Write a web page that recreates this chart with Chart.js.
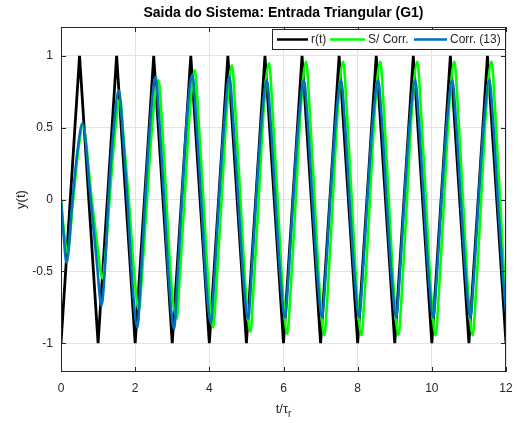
<!DOCTYPE html>
<html lang="pt">
<head>
  <meta charset="UTF-8">
  <title>Saida do Sistema: Entrada Triangular (G1)</title>
  <style>
    body {
      margin: 0;
      background-color: #fff;
    }
    canvas {
      display: block;
    }
  </style>
</head>
<body>

  <canvas id="saidaChart" width="517" height="423"></canvas>

  <script src="https://cdn.jsdelivr.net/npm/chart.js"></script>
  <script>
    // r(t): triangular input
    const refT = [0, 0.5, 1, 1.5, 2, 2.5, 3, 3.5, 4, 4.5, 5, 5.5, 6, 6.5, 7, 7.5, 8, 8.5, 9, 9.5, 10, 10.5, 11, 11.5, 12];
    const refY = [-1, 1, -1, 1, -1, 1, -1, 1, -1, 1, -1, 1, -1, 1, -1, 1, -1, 1, -1, 1, -1, 1, -1, 1, -1];

    // S/ Corr. (green)
    const semT = [
      0, 0.08, 0.17, 0.33, 0.46, 0.59, 0.83, 0.97,
      1.12, 1.21, 1.31, 1.45, 1.59, 1.69, 1.83, 1.97,
      2.10, 2.19, 2.32, 2.47, 2.63, 2.72, 2.84, 2.98,
      3.12, 3.20, 3.33, 3.47, 3.61, 3.70, 3.84, 3.98,
      4.10, 4.19, 4.33, 4.47, 4.61, 4.70, 4.84, 4.98,
      5.11, 5.19, 5.33, 5.47, 5.61, 5.70, 5.84, 5.98,
      6.10, 6.19, 6.33, 6.47, 6.61, 6.70, 6.84, 6.98,
      7.10, 7.19, 7.33, 7.47, 7.61, 7.70, 7.84, 7.98,
      8.10, 8.19, 8.33, 8.47, 8.61, 8.70, 8.84, 8.98,
      9.10, 9.19, 9.33, 9.47, 9.61, 9.70, 9.84, 9.98,
      10.10, 10.19, 10.33, 10.47, 10.61, 10.70, 10.84, 10.98,
      11.10, 11.19, 11.33, 11.47, 11.61, 11.70, 11.84, 11.98,
      12
    ];
    const semY = [
      0, -0.22, -0.37, 0, 0.33, 0.51, 0, -0.30,
      -0.55, -0.35, 0, 0.45, 0.70, 0.42, 0, -0.50,
      -0.77, -0.50, 0, 0.55, 0.83, 0.55, 0, -0.60,
      -0.83, -0.55, 0, 0.60, 0.90, 0.60, 0, -0.62,
      -0.89, -0.60, 0, 0.62, 0.935, 0.62, 0, -0.63,
      -0.92, -0.62, 0, 0.64, 0.95, 0.64, 0, -0.64,
      -0.935, -0.64, 0, 0.65, 0.96, 0.65, 0, -0.65,
      -0.945, -0.65, 0, 0.65, 0.96, 0.65, 0, -0.65,
      -0.945, -0.65, 0, 0.65, 0.96, 0.65, 0, -0.65,
      -0.945, -0.65, 0, 0.65, 0.96, 0.65, 0, -0.65,
      -0.945, -0.65, 0, 0.65, 0.96, 0.65, 0, -0.65,
      -0.945, -0.65, 0, 0.65, 0.96, 0.65, 0, -0.65,
      -0.70
    ];

    // Corr. (13) (blue)
    const corrT = [
      0, 0.07, 0.15, 0.31, 0.45, 0.58, 0.80, 0.97,
      1.09, 1.18, 1.28, 1.42, 1.56, 1.67, 1.79, 1.93,
      2.06, 2.14, 2.27, 2.41, 2.55, 2.65, 2.78, 2.92,
      3.05, 3.13, 3.26, 3.40, 3.54, 3.64, 3.78, 3.92,
      4.04, 4.13, 4.26, 4.41, 4.54, 4.64, 4.78, 4.92,
      5.05, 5.13, 5.26, 5.41, 5.55, 5.65, 5.78, 5.92,
      6.04, 6.13, 6.26, 6.41, 6.55, 6.65, 6.78, 6.92,
      7.04, 7.13, 7.26, 7.41, 7.55, 7.65, 7.78, 7.92,
      8.04, 8.13, 8.26, 8.41, 8.55, 8.65, 8.78, 8.92,
      9.04, 9.13, 9.26, 9.41, 9.55, 9.65, 9.78, 9.92,
      10.04, 10.13, 10.26, 10.41, 10.55, 10.65, 10.78, 10.92,
      11.04, 11.13, 11.26, 11.41, 11.55, 11.65, 11.78, 11.92,
      12
    ];
    const corrY = [
      0, -0.25, -0.44, 0, 0.35, 0.53, 0, -0.45,
      -0.74, -0.50, 0, 0.50, 0.76, 0.45, 0, -0.60,
      -0.89, -0.60, 0, 0.55, 0.855, 0.55, 0, -0.60,
      -0.90, -0.60, 0, 0.58, 0.87, 0.58, 0, -0.60,
      -0.86, -0.57, 0, 0.56, 0.855, 0.56, 0, -0.56,
      -0.83, -0.55, 0, 0.55, 0.83, 0.55, 0, -0.55,
      -0.82, -0.55, 0, 0.55, 0.83, 0.55, 0, -0.55,
      -0.82, -0.55, 0, 0.55, 0.83, 0.55, 0, -0.55,
      -0.82, -0.55, 0, 0.55, 0.83, 0.55, 0, -0.55,
      -0.82, -0.55, 0, 0.55, 0.83, 0.55, 0, -0.55,
      -0.82, -0.55, 0, 0.55, 0.83, 0.55, 0, -0.55,
      -0.82, -0.55, 0, 0.55, 0.83, 0.55, 0, -0.55,
      -0.78
    ];

    const yTicks = [-1, -0.5, 0, 0.5, 1];
    const seriesNames = ['r(t)', 'S/ Corr.', 'Corr. (13)'];
    const seriesColors = ['#000000', '#00ff00', '#0072bd'];

    const FONT = "'Liberation Sans', Arial, Helvetica, sans-serif";
    const AXIS_COLOR = '#262626';

    const toPoints = (ts, ys) => ts.map((t, i) => ({ x: t, y: ys[i] }));

    // frame, inner ticks, title, axis labels and legend (MATLAB look)
    const framePlugin = {
      id: 'frame',
      afterDraw(chart) {
        const ctx = chart.ctx;
        const a = chart.chartArea;
        const xs = chart.scales.x;
        const ys = chart.scales.y;
        ctx.save();

        // box
        ctx.strokeStyle = AXIS_COLOR;
        ctx.lineWidth = 1;
        ctx.strokeRect(Math.round(a.left) + 0.5, Math.round(a.top) + 0.5,
          Math.round(a.right - a.left) - 1, Math.round(a.bottom - a.top) - 1);

        // inner ticks
        ctx.beginPath();
        xs.ticks.forEach(tk => {
          const px = Math.round(xs.getPixelForValue(tk.value)) + 0.5;
          ctx.moveTo(px, a.bottom); ctx.lineTo(px, a.bottom - 5);
          ctx.moveTo(px, a.top); ctx.lineTo(px, a.top + 5);
        });
        ys.ticks.forEach(tk => {
          const py = Math.round(ys.getPixelForValue(tk.value)) + 0.5;
          ctx.moveTo(a.left, py); ctx.lineTo(a.left + 5, py);
          ctx.moveTo(a.right, py); ctx.lineTo(a.right - 5, py);
        });
        ctx.stroke();

        // title
        ctx.fillStyle = '#000';
        ctx.font = 'bold 14px ' + FONT;
        ctx.textAlign = 'center';
        ctx.textBaseline = 'middle';
        ctx.fillText('Saida do Sistema: Entrada Triangular (G1)', (a.left + a.right) / 2, 13);

        // x label t/τ_r
        ctx.fillStyle = AXIS_COLOR;
        ctx.textAlign = 'left';
        ctx.textBaseline = 'alphabetic';
        ctx.font = '13px ' + FONT;
        const main = 't/\u03C4';
        const w1 = ctx.measureText(main).width;
        ctx.font = '10px ' + FONT;
        const w2 = ctx.measureText('r').width;
        const x0 = (a.left + a.right) / 2 - (w1 + w2) / 2;
        ctx.font = '13px ' + FONT;
        ctx.fillText(main, x0, 413);
        ctx.font = '10px ' + FONT;
        ctx.fillText('r', x0 + w1, 417);

        // y label
        ctx.save();
        ctx.translate(21, (a.top + a.bottom) / 2);
        ctx.rotate(-Math.PI / 2);
        ctx.font = '13px ' + FONT;
        ctx.textAlign = 'center';
        ctx.textBaseline = 'middle';
        ctx.fillText('y(t)', 0, 0);
        ctx.restore();

        // legend
        const lx = 272, ly = 29, lw = a.right - 272, lh = 21;
        ctx.fillStyle = '#fff';
        ctx.fillRect(lx, ly, lw, lh);
        ctx.strokeStyle = AXIS_COLOR;
        ctx.strokeRect(lx + 0.5, ly + 0.5, lw - 1, lh - 1);
        const cy = ly + lh / 2;
        const items = [
          { x: 277, len: 31 },
          { x: 330, len: 35 },
          { x: 414, len: 33 }
        ];
        ctx.font = '12px ' + FONT;
        ctx.textBaseline = 'middle';
        ctx.textAlign = 'left';
        items.forEach((it, i) => {
          ctx.strokeStyle = seriesColors[i];
          ctx.lineWidth = 2.5;
          ctx.beginPath();
          ctx.moveTo(it.x, cy); ctx.lineTo(it.x + it.len, cy);
          ctx.stroke();
          ctx.fillStyle = AXIS_COLOR;
          ctx.fillText(seriesNames[i], it.x + it.len + 3, cy + 0.5);
        });

        ctx.restore();
      }
    };

    const ctx = document.getElementById('saidaChart').getContext('2d');

    const chart = new Chart(ctx, {
      type: 'line',
      data: {
        datasets: [
          {
            label: seriesNames[2],
            data: toPoints(corrT, corrY),
            borderColor: seriesColors[2],
            borderWidth: 2.6,
            cubicInterpolationMode: 'monotone',
            fill: false
          },
          {
            label: seriesNames[1],
            data: toPoints(semT, semY),
            borderColor: seriesColors[1],
            borderWidth: 2.6,
            cubicInterpolationMode: 'monotone',
            fill: false
          },
          {
            label: seriesNames[0],
            data: toPoints(refT, refY),
            borderColor: seriesColors[0],
            borderWidth: 2.8,
            tension: 0,
            fill: false
          }
        ]
      },
      options: {
        responsive: false,
        animation: false,
        layout: { padding: { left: 0, right: 11, top: 27, bottom: 0 } },
        elements: { point: { radius: 0 } },
        plugins: {
          legend: { display: false },
          tooltip: { enabled: false }
        },
        scales: {
          x: {
            type: 'linear',
            min: 0,
            max: 12,
            ticks: {
              stepSize: 2,
              color: AXIS_COLOR,
              font: { family: FONT, size: 12 },
              padding: 9,
              maxRotation: 0
            },
            grid: { color: '#e3e3e3', drawTicks: false },
            border: { display: false },
            afterFit(scale) {
              scale.height = 51;
              scale.paddingLeft = 0;
              scale.paddingRight = 0;
            }
          },
          y: {
            type: 'linear',
            min: -1.2,
            max: 1.2,
            afterBuildTicks(scale) {
              scale.ticks = yTicks.map(v => ({ value: v }));
            },
            ticks: {
              color: AXIS_COLOR,
              font: { family: FONT, size: 12 },
              padding: 8,
              callback: v => String(v)
            },
            grid: { color: '#e3e3e3', drawTicks: false },
            border: { display: false },
            afterFit(scale) {
              scale.width = 61;
              scale.paddingTop = 0;
              scale.paddingBottom = 0;
            }
          }
        }
      },
      plugins: [framePlugin]
    });
  </script>

</body>
</html>
